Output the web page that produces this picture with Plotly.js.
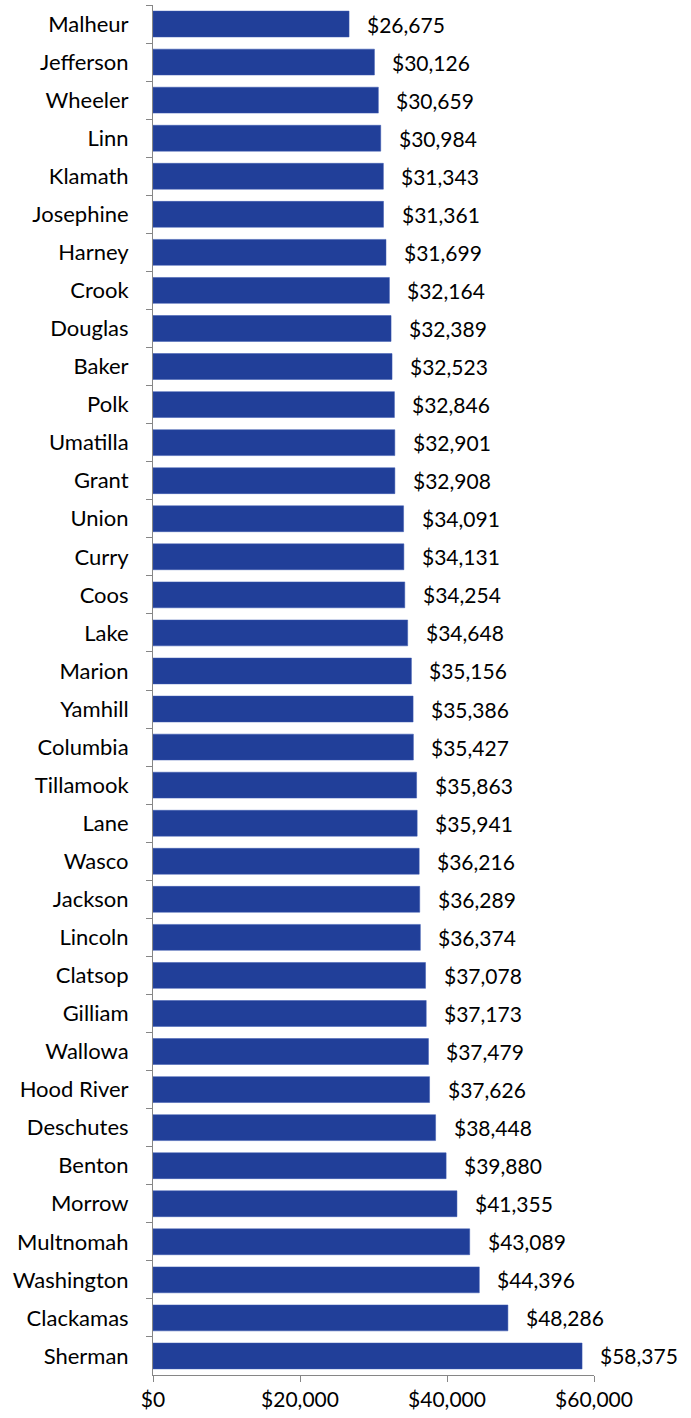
<!DOCTYPE html>
<html>
<head>
<meta charset="utf-8">
<script src="https://cdn.plot.ly/plotly-3.0.1.min.js"></script>
<style>html,body{margin:0;padding:0;background:#fff}#chart{width:691px;height:1418px}</style>
</head>
<body>
<div id="chart"></div>
<script>
const counties = ["Malheur","Jefferson","Wheeler","Linn","Klamath","Josephine","Harney","Crook","Douglas","Baker","Polk","Umatilla","Grant","Union","Curry","Coos","Lake","Marion","Yamhill","Columbia","Tillamook","Lane","Wasco","Jackson","Lincoln","Clatsop","Gilliam","Wallowa","Hood River","Deschutes","Benton","Morrow","Multnomah","Washington","Clackamas","Sherman"];
const incomes = [26675,30126,30659,30984,31343,31361,31699,32164,32389,32523,32846,32901,32908,34091,34131,34254,34648,35156,35386,35427,35863,35941,36216,36289,36374,37078,37173,37479,37626,38448,39880,41355,43089,44396,48286,58375];
const xTickVals = [0,20000,40000,60000];
const xTickText = ["$0","$20,000","$40,000","$60,000"];

const fmt = v => "$" + v.toLocaleString("en-US");
const FONT = "Lato, 'Open Sans', sans-serif";

const trace = {
  type: "bar",
  orientation: "h",
  x: incomes,
  y: counties,
  marker: {color: "#213f99", line: {color: "#3a58b0", width: 0.5}},
  hoverinfo: "none"
};

const annotations = counties.map((c, i) => ({
  x: incomes[i], y: c, xref: "x", yref: "y",
  text: fmt(incomes[i]), showarrow: false,
  xanchor: "left", xshift: 16,
  font: {family: FONT, size: 21, color: "#000"}
}));

const layout = {
  width: 691, height: 1418,
  margin: {l: 153, r: 97, t: 5, b: 43},
  paper_bgcolor: "#fff", plot_bgcolor: "#fff",
  bargap: 0.32,
  showlegend: false,
  xaxis: {
    range: [0, 60000], tickvals: xTickVals, ticktext: xTickText,
    showgrid: false, zeroline: false,
    showline: true, linecolor: "#868686", linewidth: 1,
    ticks: "outside", ticklen: 6, tickcolor: "#868686",
    tickfont: {family: FONT, size: 21, color: "#000"},
    fixedrange: true
  },
  yaxis: {
    type: "category", autorange: "reversed",
    showgrid: false, zeroline: false,
    showline: true, linecolor: "#868686", linewidth: 1,
    ticks: "outside", ticklen: 6, tickcolor: "#868686",
    tickson: "boundaries",
    ticklabelstandoff: 19,
    tickfont: {family: FONT, size: 22, color: "#000"},
    fixedrange: true
  },
  annotations: annotations
};

Plotly.newPlot("chart", [trace], layout, {staticPlot: true});
</script>
</body>
</html>
